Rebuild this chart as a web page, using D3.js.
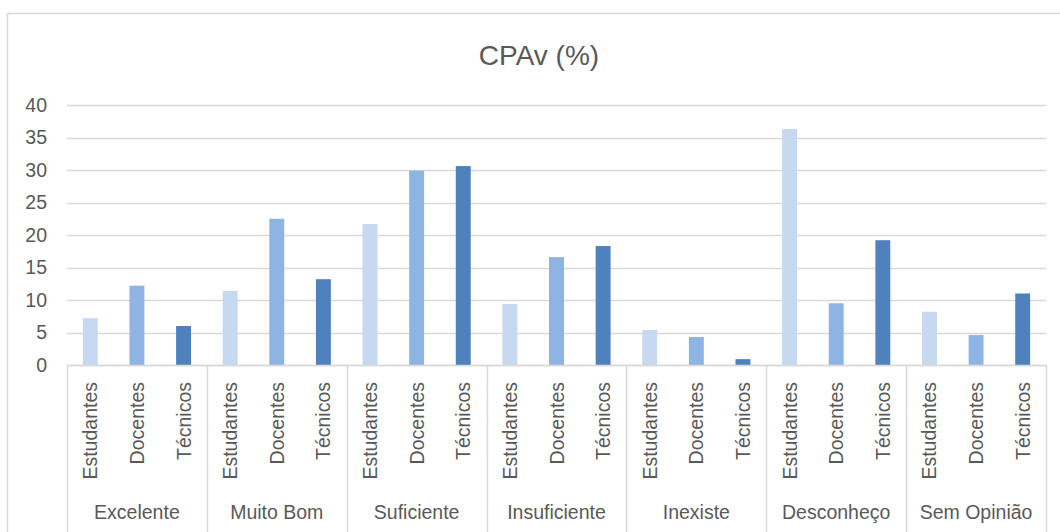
<!DOCTYPE html>
<html>
<head>
<meta charset="utf-8">
<script src="https://cdn.jsdelivr.net/npm/d3@7"></script>
<style>
  body { margin: 0; background: #fff; }
  svg { display: block; font-family: 'Liberation Sans', Arial, sans-serif; }
</style>
</head>
<body>
<div id="chart"></div>
<script>
// Data
const categories = ['Excelente', 'Muito Bom', 'Suficiente', 'Insuficiente', 'Inexiste', 'Desconheço', 'Sem Opinião']
const series = ['Estudantes', 'Docentes', 'Técnicos']
const estudantes = [7.2, 11.4, 21.7, 9.4, 5.4, 36.3, 8.2]
const docentes = [12.2, 22.5, 29.9, 16.6, 4.3, 9.5, 4.6]
const tecnicos = [6.0, 13.2, 30.6, 18.3, 0.9, 19.2, 11.0]
const yTicks = [0, 5, 10, 15, 20, 25, 30, 35, 40]
const colors = ['#c6d9f0', '#8eb4e3', '#4f81bd']

const values = [estudantes, docentes, tecnicos]
const dataset = categories.map((c, i) => ({
  category: c,
  bars: series.map((s, j) => ({ series: s, value: values[j][i] }))
}))

// Dimensions
const dimensions = {
  width: 1060,
  height: 532,
  left: 67,
  right: 1046,
  top: 105,
  bottom: 365
}

const svg = d3.select('#chart')
  .append('svg')
  .attr('width', dimensions.width)
  .attr('height', dimensions.height)

// chart border
svg.append('rect')
  .attr('x', 7.5)
  .attr('y', 13.5)
  .attr('width', 1100)
  .attr('height', 600)
  .attr('fill', 'none')
  .attr('stroke', '#d9d9d9')
  .attr('stroke-width', 1.5)

// Scales
const xScale = d3.scaleBand()
  .domain(categories)
  .range([dimensions.left, dimensions.right])

const xInner = d3.scaleBand()
  .domain(series)
  .range([0, xScale.bandwidth()])
  .paddingInner(0.68)
  .paddingOuter(0.34)

const yScale = d3.scaleLinear()
  .domain([0, 40])
  .range([dimensions.bottom, dimensions.top])

// Gridlines
svg.append('g')
  .selectAll('line')
  .data(yTicks)
  .join('line')
  .attr('x1', dimensions.left)
  .attr('x2', dimensions.right)
  .attr('y1', d => Math.round(yScale(d)) + 0.5)
  .attr('y2', d => Math.round(yScale(d)) + 0.5)
  .attr('stroke', '#d9d9d9')
  .attr('stroke-width', 1.5)

// Y axis labels
const yAxis = d3.axisLeft(yScale)
  .tickValues(yTicks)
  .tickSize(0)
  .tickPadding(0)

const yAxisGroup = svg.append('g')
  .attr('transform', `translate(47,0)`)
  .call(yAxis)
yAxisGroup.select('.domain').remove()
yAxisGroup.selectAll('text')
  .attr('fill', '#595959')
  .attr('font-size', 19.5)
  .attr('font-family', "'Liberation Sans', Arial, sans-serif")

// Bars
const groups = svg.append('g')
  .selectAll('g')
  .data(dataset)
  .join('g')
  .attr('transform', d => `translate(${xScale(d.category)},0)`)

groups.selectAll('rect')
  .data(d => d.bars)
  .join('rect')
  .attr('x', d => xInner(d.series))
  .attr('width', xInner.bandwidth())
  .attr('y', d => yScale(d.value))
  .attr('height', d => yScale(0) - yScale(d.value))
  .attr('fill', (d, i) => colors[i])

// Category axis: baseline + group separators
svg.append('line')
  .attr('x1', dimensions.left)
  .attr('x2', dimensions.right)
  .attr('y1', dimensions.bottom + 0.5)
  .attr('y2', dimensions.bottom + 0.5)
  .attr('stroke', '#d9d9d9')
  .attr('stroke-width', 1.5)

const bounds = categories.map(c => xScale(c)).concat([dimensions.right])
svg.append('g')
  .selectAll('line')
  .data(bounds)
  .join('line')
  .attr('x1', d => Math.round(d) + 0.5)
  .attr('x2', d => Math.round(d) + 0.5)
  .attr('y1', dimensions.bottom)
  .attr('y2', dimensions.height)
  .attr('stroke', '#d9d9d9')
  .attr('stroke-width', 1.5)

// Sub labels (rotated)
groups.selectAll('text.sub')
  .data(d => d.bars)
  .join('text')
  .classed('sub', true)
  .attr('transform', d => `translate(${xInner(d.series) + xInner.bandwidth() / 2 + 7},382) rotate(-90)`)
  .attr('text-anchor', 'end')
  .attr('fill', '#595959')
  .attr('font-size', 19.5)
  .text(d => d.series)

// Group labels
groups.append('text')
  .attr('x', xScale.bandwidth() / 2)
  .attr('y', 519)
  .attr('text-anchor', 'middle')
  .attr('fill', '#595959')
  .attr('font-size', 19.5)
  .text(d => d.category)

// Title
svg.append('text')
  .attr('x', 539)
  .attr('y', 65)
  .attr('text-anchor', 'middle')
  .attr('fill', '#595959')
  .attr('font-size', 28)
  .text('CPAv (%)')
</script>
</body>
</html>
